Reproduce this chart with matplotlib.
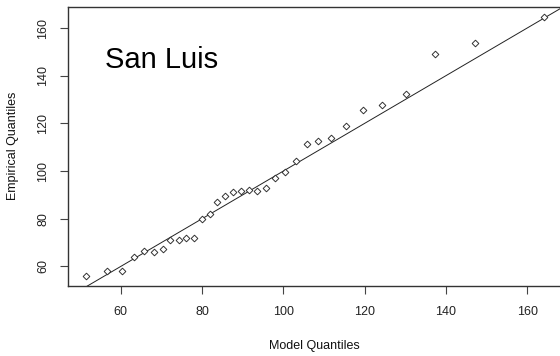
import matplotlib
matplotlib.use("Agg")
import matplotlib.pyplot as plt
import numpy as np

# Q-Q data: fitted model quantiles vs. empirical quantiles
model_q = [51.5, 56.7, 60.3, 63.3, 65.6, 68.1, 70.3, 72.2, 74.2, 76.0, 78.0,
           80.0, 82.0, 83.7, 85.7, 87.6, 89.5, 91.5, 93.6, 95.8, 98.0, 100.3,
           103.1, 105.7, 108.6, 111.7, 115.5, 119.6, 124.2, 130.1, 137.4,
           147.2, 164.2]
empirical_q = [56.1, 57.9, 58.2, 64.1, 66.3, 66.1, 67.4, 70.9, 70.9, 72.0, 72.0,
               79.7, 81.9, 87.1, 89.4, 91.1, 91.8, 91.9, 91.8, 92.8, 97.0, 99.7,
               104.1, 111.5, 112.4, 113.7, 119.0, 125.7, 127.8, 132.4, 149.0,
               153.6, 164.5]
x_ticks = [60, 80, 100, 120, 140, 160]
y_ticks = [60, 80, 100, 120, 140, 160]
title = "San Luis"

plt.rcParams["font.family"] = ["Liberation Sans", "DejaVu Sans"]

W, H = 560, 356
fig = plt.figure(figsize=(W / 100, H / 100), dpi=100)
left, right, top, bottom = 68, 562.5, 7, 286
ax = fig.add_axes([left / W, 1 - bottom / H, (right - left) / W, (bottom - top) / H])

# R-style 4% padding around the data range
def padded(v):
    lo, hi = min(v), max(v)
    d = (hi - lo) * 0.04
    return lo - d, hi + d

ax.set_xlim(*padded(model_q))
ax.set_ylim(*padded(empirical_q))

# identity reference line
ref = np.array([0, 300])
ax.plot(ref, ref, color="#222222", lw=0.7, zorder=2)

ax.plot(model_q, empirical_q, linestyle="none", marker="D", markersize=3.4,
        markerfacecolor="white", markeredgecolor="#333333", markeredgewidth=0.7,
        zorder=3)

ax.set_xticks(x_ticks)
ax.set_yticks(y_ticks)
ax.set_xticklabels([str(t) for t in x_ticks])
ax.set_yticklabels([str(t) for t in y_ticks], rotation=90, va="center")
ax.tick_params(axis="both", direction="out", length=5.5, width=0.8,
               color="#444444", labelsize=9, labelcolor="#222222")
ax.tick_params(axis="x", pad=9)
ax.tick_params(axis="y", pad=8)
for s in ax.spines.values():
    s.set_color("#333333")
    s.set_linewidth(1.0)

fig.text(314 / W, 1 - 346 / H, "Model Quantiles", ha="center", va="center",
         fontsize=9, color="#111111")
fig.text(13 / W, 1 - 146 / H, "Empirical Quantiles", ha="center", va="center",
         rotation=90, fontsize=9, color="#111111")

ax.text(105 / W, 1 - 60 / H, title, transform=fig.transFigure, ha="left",
        va="center", fontsize=21, color="black")

fig.savefig("out.png", dpi=100)
